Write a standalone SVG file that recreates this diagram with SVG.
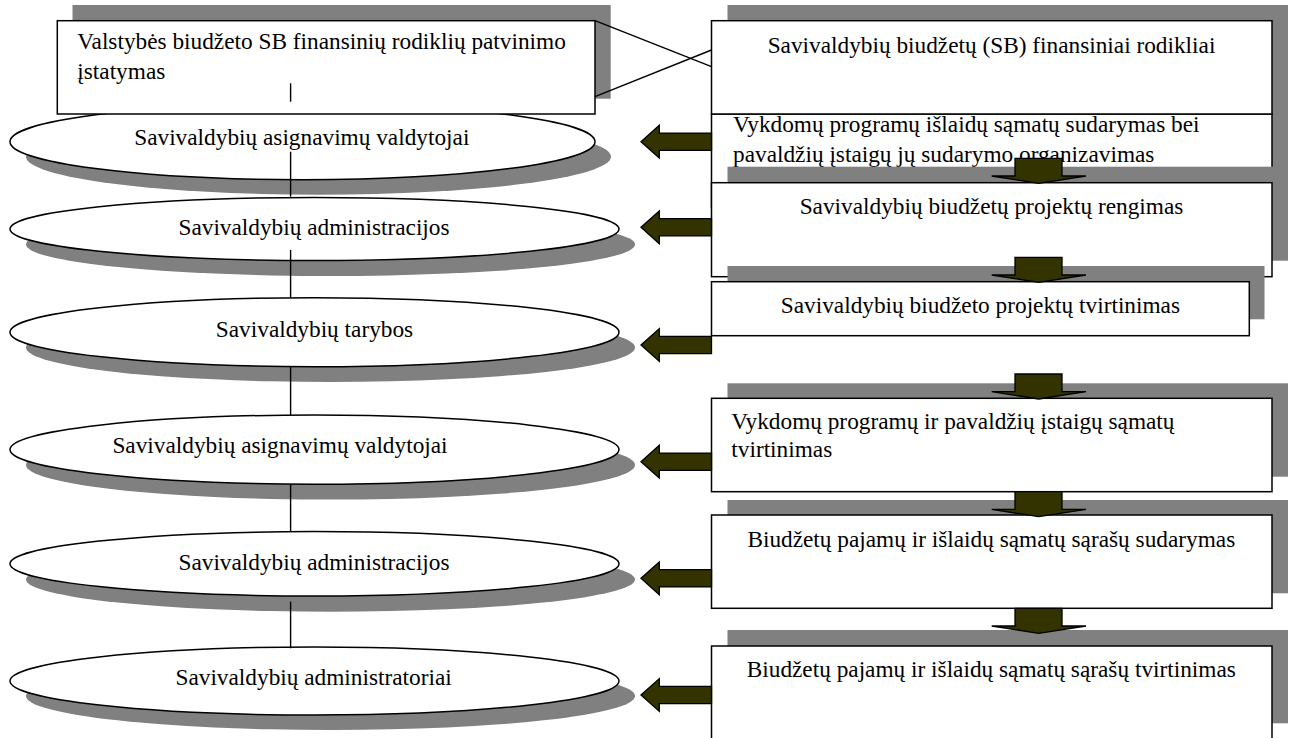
<svg xmlns="http://www.w3.org/2000/svg" width="1292" height="738" viewBox="0 0 1292 738">
<style>
  .sh { fill: #808080; stroke: none; }
  .box { fill: #ffffff; stroke: #000000; stroke-width: 1.5; }
  .ell { fill: #ffffff; stroke: #000000; stroke-width: 1.5; }
  .t { font-family: "Liberation Serif", "Times New Roman", serif; font-size: 23.3px; fill: #000000; }
  .m { text-anchor: middle; }
  .ln { stroke: #000000; stroke-width: 1.4; fill: none; }
  .arr { fill: #333300; stroke: #000000; stroke-width: 1.3; stroke-linejoin: miter; }
</style>
<defs>
  <path id="arrL" d="M0,0 L18.3,-16.4 L18.3,-8.6 L70.5,-8.6 L70.5,8.6 L18.3,8.6 L18.3,16.4 Z"/>
  <path id="arrD" d="M-23.7,0 L23.3,0 L23.3,17.7 L47.3,17.7 L0,25 L-47,17.7 L-23.7,17.7 Z"/>
</defs>
<rect width="1292" height="738" fill="#ffffff"/>

<g id="e1">
  <ellipse class="sh" cx="318.5" cy="156.7" rx="292.5" ry="38"/>
  <ellipse class="ell" cx="302.5" cy="141.7" rx="292.5" ry="38"/>
  <text class="t m" x="301.8" y="145">Savivaldybių asignavimų valdytojai</text>
</g>
<g id="lawbox">
  <rect class="sh" x="72.5" y="5" width="538.2" height="93.7"/>
  <rect class="box" x="57.3" y="20.7" width="537.7" height="93.3"/>
  <text class="t" x="77.3" y="49.3">Valstybės biudžeto SB finansinių rodiklių patvinimo</text>
  <text class="t" x="77.3" y="79">įstatymas</text>
</g>
<g id="e2">
  <ellipse class="sh" cx="330.5" cy="244.5" rx="304.5" ry="31.5"/>
  <ellipse class="ell" cx="314.5" cy="229" rx="304.5" ry="31.5"/>
  <text class="t m" x="314" y="235">Savivaldybių administracijos</text>
</g>
<g id="e3">
  <ellipse class="sh" cx="330.5" cy="347.5" rx="304.5" ry="34.5"/>
  <ellipse class="ell" cx="314.5" cy="332.2" rx="304.5" ry="34.5"/>
  <text class="t m" x="314.5" y="336.7">Savivaldybių tarybos</text>
</g>
<g id="e4">
  <ellipse class="sh" cx="330.5" cy="465" rx="304.5" ry="34.6"/>
  <ellipse class="ell" cx="314.5" cy="449.6" rx="304.5" ry="34.6"/>
  <text class="t m" x="280" y="453.3">Savivaldybių asignavimų valdytojai</text>
</g>
<g id="e5">
  <ellipse class="sh" cx="330.5" cy="579.5" rx="304.5" ry="32.2"/>
  <ellipse class="ell" cx="314.5" cy="563.8" rx="304.5" ry="32.2"/>
  <text class="t m" x="314" y="570">Savivaldybių administracijos</text>
</g>
<g id="e6">
  <ellipse class="sh" cx="330.5" cy="696" rx="304.5" ry="34"/>
  <ellipse class="ell" cx="314.5" cy="681" rx="304.5" ry="34"/>
  <text class="t m" x="313.6" y="685">Savivaldybių administratoriai</text>
</g>

<g id="b2">
  <rect class="sh" x="727.5" y="98" width="560.5" height="93"/>
  <rect class="box" x="711.5" y="114" width="560.5" height="93"/>
  <text class="t" x="733" y="132">Vykdomų programų išlaidų sąmatų sudarymas bei</text>
  <text class="t" x="733" y="161.7">pavaldžių įstaigų jų sudarymo organizavimas</text>
</g>
<g id="b1">
  <rect class="sh" x="727.5" y="5" width="560.5" height="93"/>
  <rect class="box" x="711.5" y="20.7" width="560.5" height="93.3"/>
  <text class="t m" x="991.5" y="52.7">Savivaldybių biudžetų (SB) finansiniai rodikliai</text>
</g>
<g id="b3">
  <rect class="sh" x="727.5" y="166.7" width="560.5" height="94"/>
  <rect class="box" x="711.5" y="182.7" width="560.5" height="94"/>
  <text class="t m" x="991.5" y="214">Savivaldybių biudžetų projektų rengimas</text>
</g>
<g id="b4">
  <rect class="sh" x="727.5" y="266" width="537" height="53.3"/>
  <rect class="box" x="711.5" y="281.7" width="537.8" height="54"/>
  <text class="t m" x="980.4" y="313.3">Savivaldybių biudžeto projektų tvirtinimas</text>
</g>
<g id="b5">
  <rect class="sh" x="727.5" y="383.3" width="560.5" height="93.4"/>
  <rect class="box" x="711.5" y="398.3" width="560.5" height="93.4"/>
  <text class="t" x="731.3" y="429.3">Vykdomų programų ir pavaldžių įstaigų sąmatų</text>
  <text class="t" x="731.3" y="456.7">tvirtinimas</text>
</g>
<g id="b6">
  <rect class="sh" x="727.5" y="500" width="560.5" height="93.3"/>
  <rect class="box" x="711.5" y="515" width="560.5" height="93.3"/>
  <text class="t m" x="991.3" y="546.7">Biudžetų pajamų ir išlaidų sąmatų sąrašų sudarymas</text>
</g>
<g id="b7">
  <rect class="sh" x="727.5" y="630" width="560.5" height="93.3"/>
  <rect class="box" x="711.5" y="646" width="560.5" height="93.5"/>
  <text class="t m" x="991.3" y="676.7">Biudžetų pajamų ir išlaidų sąmatų sąrašų tvirtinimas</text>
</g>

<g id="connectors">
  <line class="ln" x1="595" y1="20.7" x2="711.5" y2="66.7"/>
  <line class="ln" x1="595" y1="96.7" x2="711.5" y2="50"/>
  <line class="ln" x1="290.6" y1="83.3" x2="290.6" y2="101.7"/>
  <line class="ln" x1="290.6" y1="151.7" x2="290.6" y2="196.7"/>
  <line class="ln" x1="290.6" y1="250" x2="290.6" y2="297.7"/>
  <line class="ln" x1="290.6" y1="366.7" x2="290.6" y2="415"/>
  <line class="ln" x1="290.6" y1="484.3" x2="290.6" y2="531.7"/>
  <line class="ln" x1="290.6" y1="601.7" x2="290.6" y2="648.3"/>
  <use href="#arrL" class="arr" transform="translate(641,141.7)"/>
  <use href="#arrL" class="arr" transform="translate(641,227.3)"/>
  <use href="#arrL" class="arr" transform="translate(641,345)"/>
  <use href="#arrL" class="arr" transform="translate(641,461.7)"/>
  <use href="#arrL" class="arr" transform="translate(641,578.3)"/>
  <use href="#arrL" class="arr" transform="translate(641,695)"/>
  <use href="#arrD" class="arr" transform="translate(1038.7,158.3)"/>
  <use href="#arrD" class="arr" transform="translate(1038.7,257.3)"/>
  <use href="#arrD" class="arr" transform="translate(1038.7,374)"/>
  <use href="#arrD" class="arr" transform="translate(1038.7,491.7)"/>
  <use href="#arrD" class="arr" transform="translate(1038.7,608.3)"/>
</g>
</svg>
